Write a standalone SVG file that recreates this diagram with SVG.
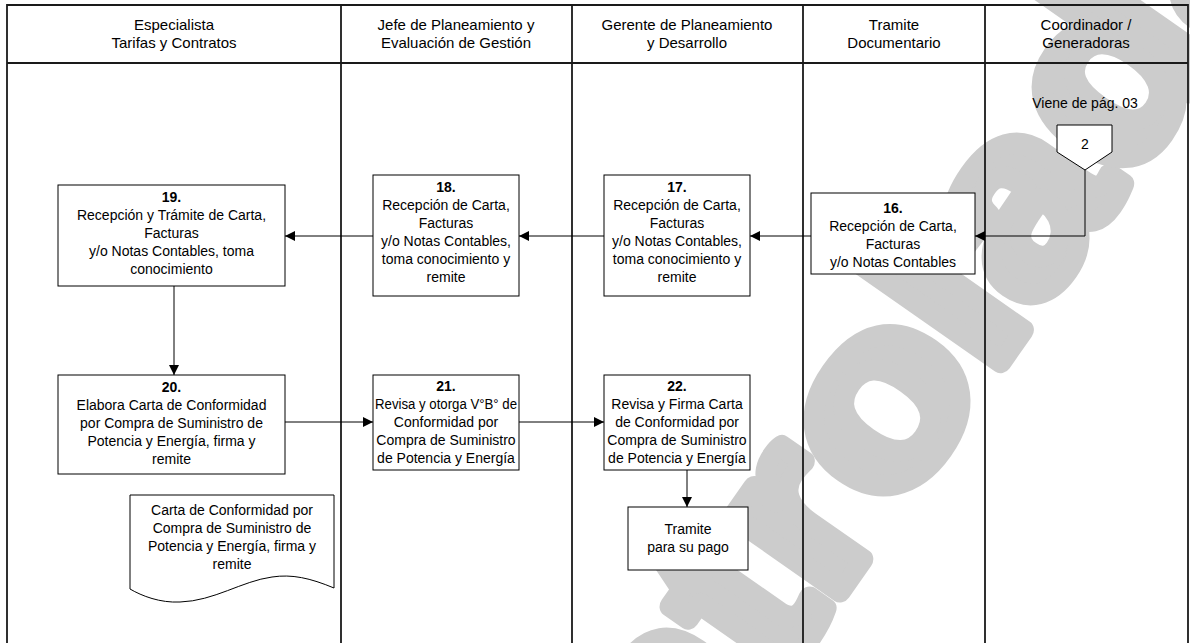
<svg xmlns="http://www.w3.org/2000/svg" width="1190" height="643" viewBox="0 0 1190 643">
  <defs>
    <marker id="arrow" viewBox="0 0 10 10" refX="10" refY="5" markerWidth="12" markerHeight="10" markerUnits="userSpaceOnUse" orient="auto">
      <path d="M0,0 L10,5 L0,10 Z" fill="#000"/>
    </marker>
    <style>
      .lane { stroke: #1a1a1a; stroke-width: 1.8; fill: none; }
      .box { fill: #fff; stroke: #000; stroke-width: 1; }
      .edge { fill: none; stroke: #000; stroke-width: 1; marker-end: url(#arrow); }
      text { font-family: "Liberation Sans", Arial, sans-serif; font-size: 14px; fill: #000; text-anchor: middle; }
      .hdr { font-size: 15px; }
      .num { font-weight: bold; }
      .wm { font-family: "Liberation Sans", Arial, sans-serif; font-weight: bold; font-size: 250px; fill: #cccccc; stroke: #cccccc; stroke-width: 20; stroke-linejoin: round; text-anchor: start; }
    </style>
  </defs>

  <rect width="1190" height="643" fill="#fff"/>

  <!-- background watermark -->
  <text class="wm" transform="translate(464,1130) rotate(-55) scale(1.12,1)">Controlada</text>

  <!-- swimlane frame -->
  <g id="lanes">
    <path class="lane" d="M7,643 V5 H1188 V643"/>
    <path class="lane" d="M7,63 H1188"/>
    <path class="lane" d="M341,5 V643 M572,5 V643 M803,5 V643 M985,5 V643"/>
  </g>

  <g id="headers">
    <text class="hdr" x="174" y="30">Especialista</text>
    <text class="hdr" x="174" y="48">Tarifas y Contratos</text>
    <text class="hdr" x="456" y="30">Jefe de Planeamiento y</text>
    <text class="hdr" x="456" y="48">Evaluación de Gestión</text>
    <text class="hdr" x="687" y="30">Gerente de Planeamiento</text>
    <text class="hdr" x="687" y="48">y Desarrollo</text>
    <text class="hdr" x="894" y="30">Tramite</text>
    <text class="hdr" x="894" y="48">Documentario</text>
    <text class="hdr" x="1086" y="30">Coordinador /</text>
    <text class="hdr" x="1086" y="48">Generadoras</text>
  </g>

  <!-- connectors -->
  <g id="connectors">
    <path class="edge" d="M1085,170 V236 H975"/>
    <path class="edge" d="M811,236 H750"/>
    <path class="edge" d="M604,236 H519"/>
    <path class="edge" d="M373,236 H285"/>
    <path class="edge" d="M174,286 V375"/>
    <path class="edge" d="M285,422 H373"/>
    <path class="edge" d="M519,422 H604"/>
    <path class="edge" d="M687,470 V507"/>
  </g>

  <!-- off-page reference -->
  <g id="offpage-2">
    <text x="1085" y="108">Viene de pág. 03</text>
    <path class="box" d="M1057,125 H1112 V152 L1085,170 L1057,152 Z"/>
    <text x="1085" y="149">2</text>
  </g>

  <g id="step-16">
    <rect class="box" x="811" y="193" width="164" height="81"/>
    <text class="num" x="893" y="213">16.</text>
    <text x="893" y="231">Recepción de Carta,</text>
    <text x="893" y="249">Facturas</text>
    <text x="893" y="267">y/o Notas Contables</text>
  </g>

  <g id="step-17">
    <rect class="box" x="604" y="175" width="146" height="121"/>
    <text class="num" x="677" y="192">17.</text>
    <text x="677" y="210">Recepción de Carta,</text>
    <text x="677" y="228">Facturas</text>
    <text x="677" y="246">y/o Notas Contables,</text>
    <text x="677" y="264">toma conocimiento y</text>
    <text x="677" y="282">remite</text>
  </g>

  <g id="step-18">
    <rect class="box" x="373" y="175" width="146" height="121"/>
    <text class="num" x="446" y="192">18.</text>
    <text x="446" y="210">Recepción de Carta,</text>
    <text x="446" y="228">Facturas</text>
    <text x="446" y="246">y/o Notas Contables,</text>
    <text x="446" y="264">toma conocimiento y</text>
    <text x="446" y="282">remite</text>
  </g>

  <g id="step-19">
    <rect class="box" x="58" y="185" width="227" height="101"/>
    <text class="num" x="171.5" y="202">19.</text>
    <text x="171.5" y="220">Recepción y Trámite de Carta,</text>
    <text x="171.5" y="238">Facturas</text>
    <text x="171.5" y="256">y/o Notas Contables, toma</text>
    <text x="171.5" y="274">conocimiento</text>
  </g>

  <g id="step-20">
    <rect class="box" x="58" y="375" width="227" height="99"/>
    <text class="num" x="171.5" y="392">20.</text>
    <text x="171.5" y="410">Elabora Carta de Conformidad</text>
    <text x="171.5" y="428">por Compra de Suministro de</text>
    <text x="171.5" y="446">Potencia y Energía, firma y</text>
    <text x="171.5" y="464">remite</text>
  </g>

  <g id="step-21">
    <rect class="box" x="373" y="375" width="146" height="95"/>
    <text class="num" x="446" y="391">21.</text>
    <text x="446" y="409" textLength="142" lengthAdjust="spacingAndGlyphs">Revisa y otorga V°B° de</text>
    <text x="446" y="427">Conformidad por</text>
    <text x="446" y="445">Compra de Suministro</text>
    <text x="446" y="463">de Potencia y Energía</text>
  </g>

  <g id="step-22">
    <rect class="box" x="604" y="375" width="146" height="95"/>
    <text class="num" x="677" y="391">22.</text>
    <text x="677" y="409">Revisa y Firma Carta</text>
    <text x="677" y="427">de Conformidad por</text>
    <text x="677" y="445">Compra de Suministro</text>
    <text x="677" y="463">de Potencia y Energía</text>
  </g>

  <g id="step-pago">
    <rect class="box" x="628" y="507" width="120" height="63"/>
    <text x="688" y="534">Tramite</text>
    <text x="688" y="552">para su pago</text>
  </g>

  <g id="doc-carta">
    <path class="box" d="M130,495 H334 V588 C310,578 292,574 272,577 C242,581 214,601 180,602 C160,603 142,596 130,589 Z"/>
    <text x="232" y="515">Carta de Conformidad por</text>
    <text x="232" y="533">Compra de Suministro de</text>
    <text x="232" y="551">Potencia y Energía, firma y</text>
    <text x="232" y="569">remite</text>
  </g>
</svg>
